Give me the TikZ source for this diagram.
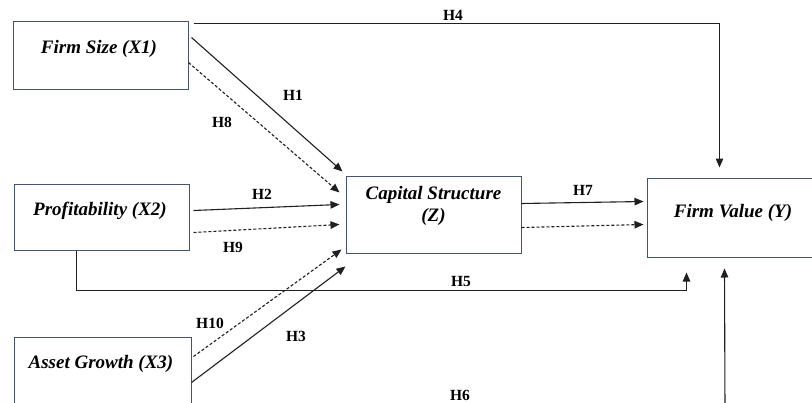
\documentclass[tikz,border=0pt]{standalone}
\usepackage{fontspec}
\setmainfont{Liberation Serif}
\usetikzlibrary{arrows.meta,calc}
\tikzset{
  box/.style={draw=boxcol, line width=1pt, inner sep=0pt, rectangle},
  boxtext/.style={font=\fontsize{19}{22}\selectfont\bfseries\itshape, inner sep=0pt, align=center},
  hlab/.style={font=\fontsize{15.5}{17}\selectfont\bfseries, inner sep=0pt},
  conn/.style={line width=1.1pt, draw=linecol, -{Triangle[length=9pt,width=7.5pt]}},
  dconn/.style={conn, dash pattern=on 3pt off 2pt},
}
\definecolor{boxcol}{HTML}{44546A}
\definecolor{linecol}{HTML}{202020}
\begin{document}
\begin{tikzpicture}[x=1pt,y=-1pt]
\useasboundingbox (0,0) rectangle (812,402);
\clip (0,0) rectangle (812,402);
% boxes
\node[box, minimum width=175pt, minimum height=68pt] (fs) at (100.5,55) {};
\node[box, minimum width=175pt, minimum height=66pt] (pr) at (101.5,217) {};
\node[box, minimum width=177pt, minimum height=86pt] (ag) at (102.5,380) {};
\node[box, minimum width=175pt, minimum height=77pt] (cs) at (433.5,214.5) {};
\node[box, minimum width=172pt, minimum height=79pt] (fv) at (733,217.5) {};
% texts
\node[boxtext] (tfs) at (99,49) {Firm Size (X1)};
\node[boxtext] (tpr) at (100,211) {Profitability (X2)};
\node[boxtext] (tag) at (101,364) {Asset Growth (X3)};
\node[boxtext] (tcs) at (433.5,206) {Capital Structure\\(Z)};
\node[boxtext] (tfv) at (733,213) {Firm Value (Y)};
% connectors
\draw[conn] ($(fs.north east)+(5,3)$) -| ($(fv.north west)+(73,-10)$);
\draw[conn] ($(fs.north east)+(3,17)$) -- ($(cs.north west)+(-3,-4)$);
\draw[dconn] ($(fs.north east)+(0,42)$) -- ($(cs.north west)+(-6,17)$);
\draw[conn] ($(pr.north east)+(4,27)$) -- ($(cs.north west)+(-6,29)$);
\draw[dconn] ($(pr.north east)+(4,49)$) -- ($(cs.north west)+(-6,49)$);
\draw[dconn] ($(ag.north east)+(2,20)$) -- ($(cs.south west)+(-4,-4)$);
\draw[conn] ($(ag.north east)+(0,46)$) -- ($(cs.south west)+(0,13)$);
\draw[conn] ($(pr.south west)+(63,0)$) |- ($(fv.south west)+(40,33)$) -- ($(fv.south west)+(40,15)$);
\coordinate (h6s) at (725,410);
\draw[conn] (h6s) -- ($(fv.south west)+(78,11)$);
\draw[conn] ($(cs.north east)+(0,28)$) -- ($(fv.north west)+(-3,24)$);
\draw[dconn] ($(cs.north east)+(0,52)$) -- ($(fv.north west)+(-3,47)$);
% labels
\node[hlab] (l4) at (453,15) {H4};
\node[hlab] (l1) at (293,95) {H1};
\node[hlab] (l8) at (222,122) {H8};
\node[hlab] (l2) at (262,194) {H2};
\node[hlab] (l9) at (233,247) {H9};
\node[hlab] (l10) at (210,323) {H10};
\node[hlab] (l3) at (296,336) {H3};
\node[hlab] (l5) at (461,281) {H5};
\node[hlab] (l6) at (460,395) {H6};
\node[hlab] (l7) at (583,190) {H7};
\end{tikzpicture}
\end{document}
